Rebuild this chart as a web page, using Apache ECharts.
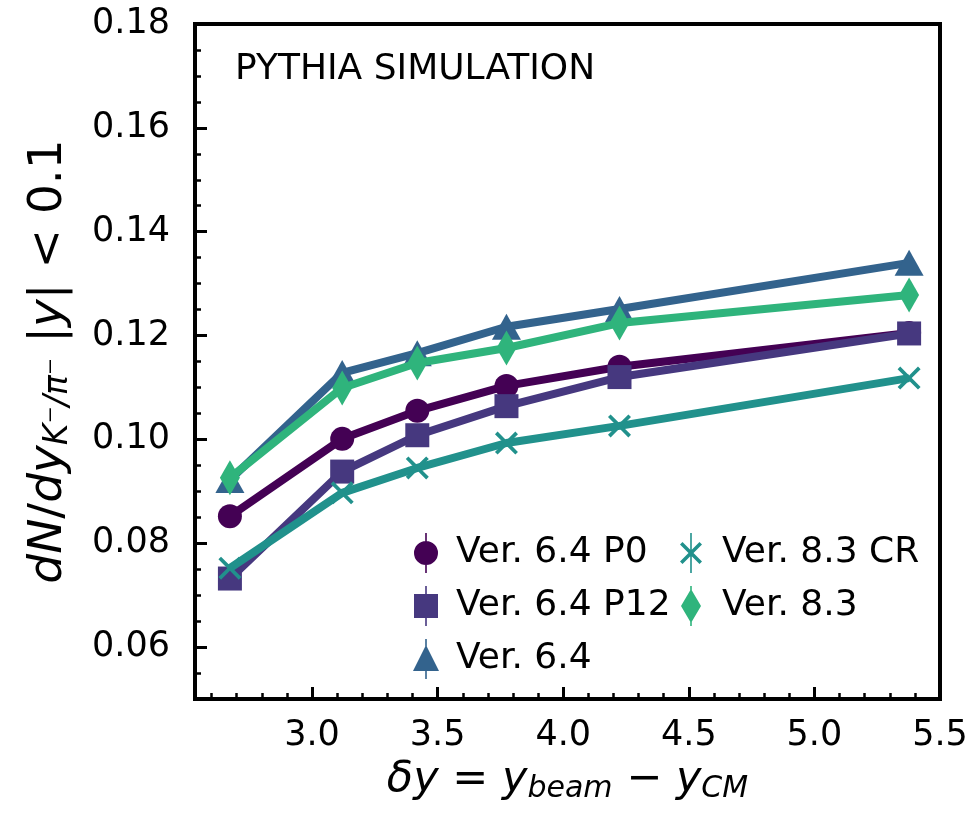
<!DOCTYPE html>
<html>
<head>
<meta charset="utf-8">
<script src="https://cdn.jsdelivr.net/npm/echarts@6/dist/echarts.min.js"></script>
<style>
  html, body { margin: 0; padding: 0; background: #fff; }
  #chart { width: 976px; height: 815px; }
</style>
</head>
<body>
<div id="chart"></div>
<script>
// rapidity gap, one value per collision energy
const deltaY = [2.673, 3.12, 3.419, 3.774, 4.224, 5.377];

const ver64P0  = [0.0852, 0.1001, 0.1055, 0.1103, 0.1140, 0.1205];
const ver64P12 = [0.0732, 0.0938, 0.1008, 0.1064, 0.1120, 0.1204];
const ver64    = [0.0922, 0.1128, 0.1166, 0.1217, 0.1251, 0.1340];
const ver83CR  = [0.0752, 0.0897, 0.0945, 0.0993, 0.1026, 0.1118];
const ver83    = [0.0926, 0.1099, 0.1147, 0.1176, 0.1224, 0.1278];

const seriesNames = ['Ver. 6.4 P0', 'Ver. 6.4 P12', 'Ver. 6.4', 'Ver. 8.3 CR', 'Ver. 8.3'];
const colors = ['#440154', '#46387f', '#33638d', '#21918c', '#2fb47c'];

const FONT = 'DejaVu Sans';

// marker shapes (x marker has no builtin in echarts)
const xMark = 'path://M0,2.5 L2.5,0 L11,8.5 L19.5,0 L22,2.5 L13.5,11 L22,19.5 L19.5,22 L11,13.5 L2.5,22 L0,19.5 L8.5,11 Z';

// legend icons = marker + the little vertical error bar
const bar = (cx) => `M${cx - 0.8},0 H${cx + 0.8} V40 H${cx - 0.8} Z`;
const legendIcons = [
    'path://M0,20 A12,12 0 1,1 24,20 A12,12 0 1,1 0,20 Z ' + bar(12),
    'path://M0,8 H24 V32 H0 Z ' + bar(12),
    'path://M13,6 L26,32 L0,32 Z ' + bar(13),
    'path://M0,11.5 L2.5,9 L11,17.5 L19.5,9 L22,11.5 L13.5,20 L22,28.5 L19.5,31 L11,22.5 L2.5,31 L0,28.5 L8.5,20 Z ' + bar(11),
    'path://M10,3 L20,20 L10,37 L0,20 Z ' + bar(10),
];

const allData = [ver64P0, ver64P12, ver64, ver83CR, ver83];
const symbols = ['circle', 'rect', 'triangle', xMark, 'diamond'];
const symbolSizes = [24, 24, [29, 26], 23, [20, 35]];

const chart = echarts.init(document.getElementById('chart'), null, {renderer: 'canvas'});

const series = allData.map((vals, i) => ({
    name: seriesNames[i],
    type: 'line',
    data: vals.map((v, k) => [deltaY[k], v]),
    symbol: symbols[i],
    symbolSize: symbolSizes[i],
    showAllSymbol: true,
    lineStyle: {width: 8, color: colors[i]},
    itemStyle: {color: colors[i], opacity: 1},
    emphasis: {disabled: true},
    z: 2 + i,
}));

const legendBase = {
    orient: 'vertical',
    padding: 0,
    itemHeight: 40,
    itemGap: 13,
    symbolKeepAspect: true,
    selectedMode: false,
    textStyle: {fontFamily: FONT, fontSize: 36, color: '#000'},
};

const option = {
    animation: false,
    backgroundColor: '#fff',
    title: {
        text: 'PYTHIA SIMULATION',
        left: 235, top: 52, padding: 0,
        textStyle: {fontFamily: FONT, fontSize: 36, fontWeight: 'normal', color: '#000'},
    },
    legend: [
        Object.assign({}, legendBase, {
            left: 413, top: 533, itemWidth: 50,
            data: [0, 1, 2].map(i => ({name: seriesNames[i], icon: legendIcons[i], itemStyle: {color: colors[i]}})),
        }),
        Object.assign({}, legendBase, {
            left: 680, top: 533, itemWidth: 52,
            data: [3, 4].map(i => ({name: seriesNames[i], icon: legendIcons[i], itemStyle: {color: colors[i]}})),
        }),
    ],
    grid: {
        left: 195, right: 36, top: 24, bottom: 116,
        show: true, borderColor: '#000', borderWidth: 4,
    },
    xAxis: {
        type: 'value',
        min: 2.534, max: 5.5,
        minInterval: 0.5, maxInterval: 0.5,
        splitLine: {show: false},
        axisLine: {show: true, lineStyle: {color: '#000', width: 4}},
        axisTick: {show: true, inside: true, length: 12, lineStyle: {color: '#000', width: 3}},
        minorTick: {show: true, splitNumber: 5, length: 6, lineStyle: {color: '#000', width: 2.5}},
        axisLabel: {
            margin: 19, color: '#000', fontFamily: FONT, fontSize: 35,
            formatter: v => Math.abs(v * 2 - Math.round(v * 2)) < 1e-6 ? v.toFixed(1) : '',
        },
        name: '{i|δy}{n| = }{i|y}{s|beam}{n| − }{i|y}{s|CM}',
        nameLocation: 'middle',
        nameGap: 52,
        nameTextStyle: {
            color: '#000', fontFamily: FONT,
            rich: {
                i: {fontStyle: 'italic', fontSize: 43, lineHeight: 50, fontFamily: FONT, color: '#000'},
                n: {fontSize: 43, lineHeight: 50, fontFamily: FONT, color: '#000'},
                s: {fontStyle: 'italic', fontSize: 30, lineHeight: 30, verticalAlign: 'bottom', fontFamily: FONT, color: '#000'},
            },
        },
    },
    yAxis: {
        type: 'value',
        min: 0.05, max: 0.18,
        minInterval: 0.02, maxInterval: 0.02,
        splitLine: {show: false},
        axisLine: {show: true, lineStyle: {color: '#000', width: 4}},
        axisTick: {show: true, inside: true, length: 12, lineStyle: {color: '#000', width: 3}},
        minorTick: {show: true, splitNumber: 4, length: 6, lineStyle: {color: '#000', width: 2.5}},
        axisLabel: {
            margin: 25, color: '#000', fontFamily: FONT, fontSize: 35,
            formatter: v => Math.abs(v * 50 - Math.round(v * 50)) < 1e-6 ? v.toFixed(2) : '',
        },
        name: '{i|dN}{n|/}{i|dy}{s|K⁻/π⁻}{n| |}{i|y}{n|| < 0.1}',
        nameLocation: 'middle',
        nameRotate: 90,
        nameGap: 120,
        nameTextStyle: {
            color: '#000', fontFamily: FONT,
            rich: {
                i: {fontStyle: 'italic', fontSize: 47, lineHeight: 52, fontFamily: FONT, color: '#000'},
                n: {fontSize: 47, lineHeight: 52, fontFamily: FONT, color: '#000'},
                s: {fontStyle: 'italic', fontSize: 33, lineHeight: 31, verticalAlign: 'bottom', fontFamily: FONT, color: '#000'},
            },
        },
    },
    series: series,
};

chart.setOption(option);
</script>
</body>
</html>
